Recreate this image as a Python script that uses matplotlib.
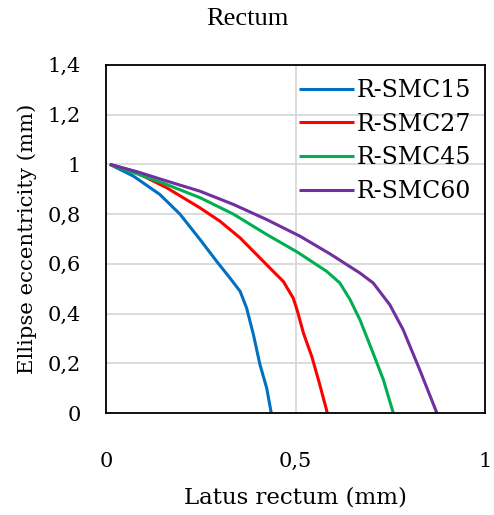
import matplotlib
matplotlib.use("Agg")
import matplotlib.pyplot as plt
from matplotlib.ticker import FuncFormatter

# Data
smc15_x = [0.01, 0.072, 0.142, 0.195, 0.248, 0.292, 0.327, 0.354, 0.371, 0.389, 0.406, 0.424, 0.436]
smc15_y = [1.0, 0.953, 0.879, 0.80, 0.698, 0.61, 0.543, 0.489, 0.422, 0.315, 0.196, 0.10, 0.0]

smc27_x = [0.01, 0.072, 0.16, 0.248, 0.301, 0.354, 0.406, 0.441, 0.468, 0.494, 0.505, 0.521, 0.543, 0.563, 0.584]
smc27_y = [1.0, 0.973, 0.906, 0.825, 0.771, 0.704, 0.624, 0.57, 0.529, 0.462, 0.41, 0.321, 0.227, 0.12, 0.0]

smc45_x = [0.01, 0.08, 0.16, 0.248, 0.336, 0.424, 0.505, 0.582, 0.617, 0.644, 0.67, 0.705, 0.732, 0.758]
smc45_y = [1.0, 0.963, 0.919, 0.866, 0.80, 0.718, 0.647, 0.57, 0.523, 0.456, 0.375, 0.24, 0.133, 0.0]

smc60_x = [0.01, 0.085, 0.16, 0.248, 0.336, 0.424, 0.512, 0.591, 0.67, 0.705, 0.749, 0.784, 0.828, 0.873]
smc60_y = [1.0, 0.969, 0.933, 0.892, 0.839, 0.778, 0.711, 0.64, 0.563, 0.523, 0.435, 0.335, 0.173, 0.0]

series = [
    ("R-SMC15", smc15_x, smc15_y, "#0070C0"),
    ("R-SMC27", smc27_x, smc27_y, "#FF0000"),
    ("R-SMC45", smc45_x, smc45_y, "#00B050"),
    ("R-SMC60", smc60_x, smc60_y, "#7030A0"),
]

x_ticks = [0, 0.5, 1]
y_ticks = [0, 0.2, 0.4, 0.6, 0.8, 1.0, 1.2, 1.4]

plt.rcParams['font.family'] = ['DejaVu Serif']

fig = plt.figure(figsize=(4.94, 5.15), dpi=100)
ax = fig.add_axes([0.2146, 0.198, 0.7672, 0.676])

for name, xs, ys, color in series:
    ax.plot(xs, ys, color=color, linewidth=2.2, label=name,
            solid_joinstyle='round', solid_capstyle='butt')

ax.set_xlim(0, 1)
ax.set_ylim(0, 1.4)
ax.set_xticks(x_ticks)
ax.set_yticks(y_ticks)

# comma as decimal separator
comma = FuncFormatter(lambda v, pos: f"{v:g}".replace(".", ","))
ax.xaxis.set_major_formatter(comma)
ax.yaxis.set_major_formatter(comma)

ax.tick_params(axis='both', length=0, labelsize=15)
ax.tick_params(axis='x', pad=28)
ax.tick_params(axis='y', pad=18)

ax.grid(True, color='#D9D9D9', linewidth=1.3)
ax.set_axisbelow(True)
for spine in ax.spines.values():
    spine.set_color('black')
    spine.set_linewidth(1.3)

ax.set_xlabel('Latus rectum (mm)', fontsize=16.5, labelpad=11)
ax.set_ylabel('Ellipse eccentricity (mm)', fontsize=15.3, labelpad=8)

fig.text(0.5, 0.963, 'Rectum', ha='center', va='center', fontsize=19,
         family='Liberation Serif')

ax.legend(loc='upper right', bbox_to_anchor=(1.0, 1.0), frameon=False,
          fontsize=17, handlelength=2.33, handletextpad=0.12,
          labelspacing=0.45, borderaxespad=0.2)

fig.savefig('out.png', dpi=100)
